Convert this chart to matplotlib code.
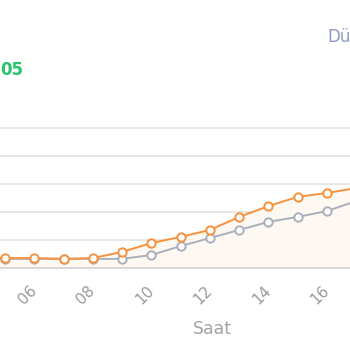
import numpy as np
import matplotlib
matplotlib.use('Agg')
import matplotlib.pyplot as plt

# saat bazinda degerler
hours = [4, 5, 6, 7, 8, 9, 10, 11, 12, 13, 14, 15, 16, 17]
orange_vals = [0.34, 0.34, 0.34, 0.31, 0.34, 0.56, 0.88, 1.10, 1.35, 1.82, 2.21, 2.54, 2.68, 2.86]
gray_vals = [0.31, 0.31, 0.31, 0.31, 0.31, 0.31, 0.45, 0.77, 1.06, 1.35, 1.64, 1.82, 2.03, 2.39]
tick_hours = [6, 8, 10, 12, 14, 16]
tick_labels = ['06', '08', '10', '12', '14', '16']

orange = '#f7913d'
gray = '#aab0ba'

fig = plt.figure(figsize=(3.5, 3.5), dpi=100)
ax = fig.add_axes([0, 0.2357, 1, 0.4369])

ax.fill_between(hours, orange_vals, 0, color='#fdf8f1', zorder=1, lw=0)
ax.plot(hours, gray_vals, color=gray, lw=1.4, marker='o', ms=6,
        mfc='white', mec=gray, mew=1.4, zorder=3)
ax.plot(hours, orange_vals, color=orange, lw=1.4, marker='o', ms=6,
        mfc='white', mec=orange, mew=1.4, zorder=4)

ax.set_xticks(tick_hours)
ax.set_xticklabels(tick_labels)
ax.tick_params(axis='x', length=0, pad=15, labelsize=11, labelcolor='#9a9a9a')
plt.setp(ax.get_xticklabels(), rotation=45, ha='right', va='center', rotation_mode='anchor')

ax.set_xlim(4.829, 16.787)
ax.set_ylim(0, 5.5)
ax.set_yticks([1, 2, 3, 4, 5])
ax.yaxis.grid(True, color='#e6e6e6', lw=1.5)
ax.set_axisbelow(True)
ax.tick_params(axis='y', length=0, labelleft=False)
for s in ['left', 'right', 'top']:
    ax.spines[s].set_visible(False)
ax.spines['bottom'].set_color('#d8d8d8')
ax.spines['bottom'].set_linewidth(1.5)

fig.text(212/350, 1-329/350, 'Saat', ha='center', va='center', fontsize=12.5, color='#a3a3a3')
fig.text(0, 1-70/350, '05', ha='left', va='center', fontsize=12, fontweight='bold', color='#27c46c')
fig.text(327/350, 1-37/350, 'Düşük', ha='left', va='center', fontsize=12, color='#8d9bc4')

fig.savefig('out.png', dpi=100)
